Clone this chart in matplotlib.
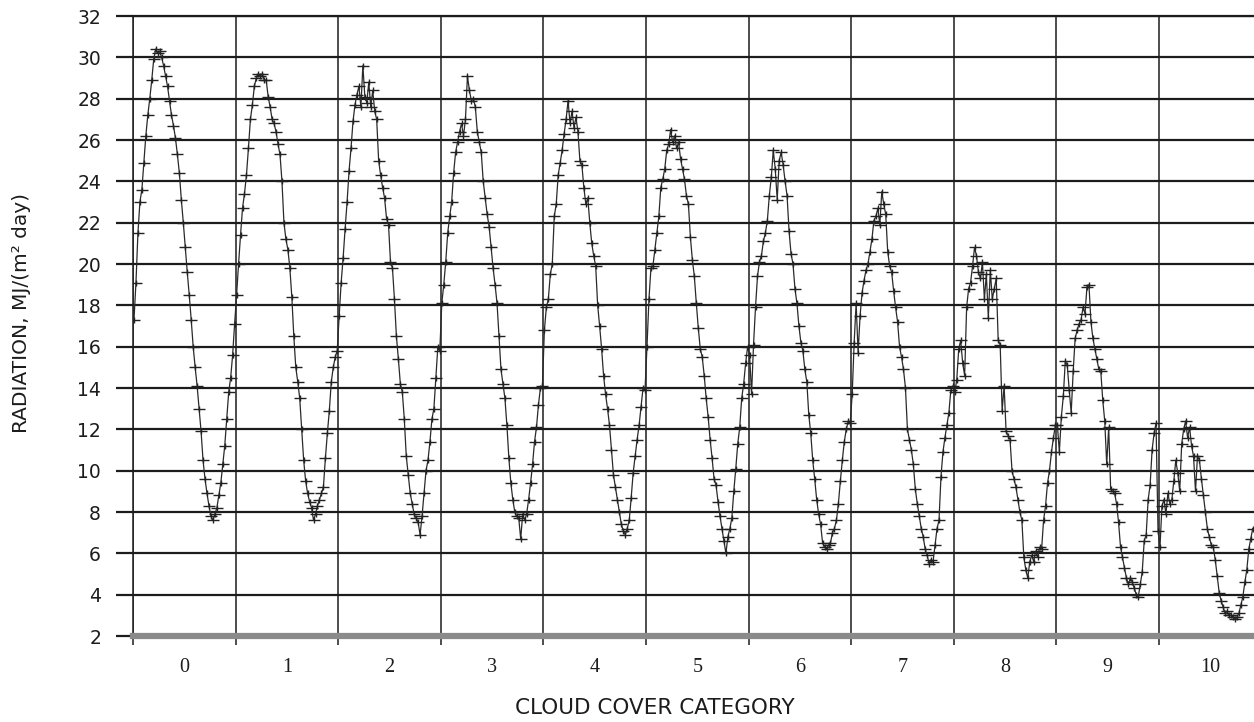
import numpy as np
import matplotlib
matplotlib.use("Agg")
import matplotlib.pyplot as plt
from matplotlib.path import Path

# weekly mean radiation per cloud cover category (52 weeks each, last one cut by the frame)
CAT0 = [17.3, 19.1, 21.5, 23.0, 23.6, 24.9, 26.2, 27.2, 28.0, 28.9, 29.9, 30.4, 30.2, 30.3, 30.0, 29.6,
        29.1, 28.6, 27.9, 27.2, 26.7, 26.1, 25.3, 24.4, 23.1, 22.0, 20.8, 19.6, 18.5, 17.3, 16.0, 15.0,
        14.1, 13.0, 11.9, 10.5, 9.6, 8.9, 8.3, 7.8, 7.6, 7.9, 8.2, 8.8, 9.4, 10.3, 11.2, 12.5, 13.8,
        14.5, 15.6, 17.1]
CAT1 = [18.5, 20.0, 21.4, 22.7, 23.4, 24.3, 25.6, 27.0, 27.7, 28.6, 29.0, 29.2, 29.1, 29.2, 28.9, 28.9,
        28.1, 27.6, 27.0, 26.8, 26.4, 25.8, 25.3, 24.0, 22.0, 21.2, 20.7, 19.8, 18.4, 16.5, 15.0, 14.3,
        13.5, 12.0, 10.5, 9.5, 8.9, 8.5, 8.2, 7.6, 7.9, 8.3, 8.6, 8.9, 9.2, 10.6, 11.8, 12.9, 14.3,
        15.0, 15.5, 15.8]
CAT2 = [17.5, 19.1, 20.3, 21.7, 23.0, 24.5, 25.6, 26.9, 27.7, 28.2, 28.6, 27.6, 29.6, 28.1, 27.8, 28.8,
        27.6, 28.4, 27.4, 27.0, 25.0, 24.3, 23.7, 23.2, 22.2, 21.9, 20.1, 19.8, 18.3, 16.5, 15.4, 14.2,
        13.8, 12.5, 10.7, 9.8, 8.9, 8.4, 7.9, 7.7, 7.5, 6.9, 7.8, 8.9, 10.0, 10.5, 11.4, 12.5, 13.0,
        14.5, 16.0, 15.8]
CAT3 = [18.1, 19.0, 20.1, 21.5, 22.3, 23.0, 24.4, 25.4, 25.9, 26.4, 26.8, 26.2, 27.0, 29.1, 28.4, 27.9,
        28.0, 27.6, 26.4, 25.9, 25.4, 24.0, 23.2, 22.4, 21.8, 20.8, 19.8, 19.0, 18.1, 16.5, 14.9, 14.2,
        13.5, 12.2, 10.6, 9.4, 8.6, 8.0, 7.8, 7.7, 6.7, 7.9, 7.6, 7.9, 8.6, 9.4, 10.3, 11.4, 12.1,
        13.2, 14.0, 14.1]
CAT4 = [16.8, 17.9, 18.3, 19.5, 20.0, 22.3, 22.9, 24.3, 24.9, 25.5, 26.3, 27.0, 27.9, 26.8, 27.4, 26.6,
        27.1, 26.4, 25.0, 24.8, 23.7, 22.9, 23.2, 22.0, 21.0, 20.4, 19.9, 18.0, 17.0, 15.9, 14.6, 13.7,
        13.0, 12.2, 11.0, 9.8, 9.2, 8.6, 8.0, 7.4, 7.1, 6.9, 7.2, 7.6, 8.7, 9.9, 10.7, 11.5, 12.2,
        13.1, 14.0, 13.9]
CAT5 = [16.0, 18.3, 19.8, 19.9, 20.7, 21.5, 22.3, 23.7, 24.1, 24.6, 25.5, 25.8, 26.5, 25.9, 26.2, 25.6,
        25.9, 25.1, 24.6, 24.1, 23.3, 22.9, 21.3, 20.2, 19.4, 18.1, 16.9, 15.9, 15.5, 14.6, 13.5, 12.6,
        11.5, 10.6, 9.6, 9.3, 8.5, 7.8, 7.2, 6.6, 6.0, 6.8, 7.2, 7.7, 9.0, 10.1, 11.3, 12.1, 13.5,
        14.2, 15.2, 16.0]
CAT6 = [15.6, 13.7, 16.1, 17.9, 19.4, 20.1, 20.4, 21.1, 21.5, 22.1, 23.3, 24.2, 25.5, 24.6, 23.1, 25.0,
        25.4, 24.8, 24.0, 23.3, 21.6, 20.5, 20.0, 18.8, 18.1, 17.0, 16.2, 15.8, 14.9, 14.3, 12.7, 11.8,
        10.5, 9.6, 8.6, 7.9, 7.4, 6.5, 6.3, 6.2, 6.4, 6.5, 7.0, 7.2, 7.6, 8.4, 9.5, 10.5, 11.4,
        12.0, 12.4, 12.3]
CAT7 = [13.7, 16.2, 18.1, 15.7, 17.5, 18.6, 19.2, 19.7, 20.0, 20.6, 21.2, 22.1, 22.3, 22.7, 21.9, 23.5,
        22.9, 22.4, 20.6, 19.9, 19.6, 18.7, 17.9, 17.2, 16.0, 15.5, 14.9, 14.0, 12.0, 11.5, 11.0, 10.3,
        9.1, 8.4, 7.8, 7.2, 6.8, 6.2, 5.9, 5.5, 5.7, 5.6, 6.4, 7.2, 7.6, 9.7, 10.9, 11.6, 12.2,
        12.8, 13.9, 14.1]
CAT8 = [13.8, 14.4, 15.9, 16.3, 15.2, 14.6, 17.9, 18.8, 19.1, 19.9, 20.8, 20.4, 19.6, 19.3, 20.1, 18.3,
        19.5, 17.4, 19.7, 18.3, 18.8, 19.3, 16.3, 16.1, 12.9, 14.1, 11.9, 11.7, 11.5, 10.0, 9.6, 9.2,
        8.6, 8.0, 7.6, 5.8, 5.2, 4.8, 5.6, 5.9, 5.6, 6.1, 5.8, 6.3, 6.2, 7.6, 8.3, 9.4, 10.0,
        10.9, 11.6, 12.2]
CAT9 = [12.2, 10.9, 12.6, 13.6, 15.3, 15.1, 13.9, 12.8, 14.8, 16.4, 16.8, 17.1, 17.3, 17.9, 17.6, 18.9,
        19.0, 17.2, 16.4, 15.9, 15.4, 14.9, 14.8, 13.4, 12.4, 10.3, 12.1, 9.1, 9.0, 8.9, 8.4, 7.5,
        6.3, 5.8, 5.3, 4.8, 4.5, 4.8, 4.6, 4.3, 4.0, 3.9, 4.5, 5.1, 6.6, 6.9, 8.6, 9.3, 11.0,
        11.8, 12.3, 7.1]
CAT10 = [6.3, 8.3, 8.6, 7.9, 8.9, 8.4, 8.6, 9.5, 10.5, 9.9, 9.0, 11.3, 12.0, 12.4, 11.6, 12.1,
         11.2, 10.7, 9.0, 10.7, 10.5, 9.6, 8.8, 8.0, 7.2, 6.8, 6.4, 6.3, 5.7, 4.9, 4.1, 3.7,
         3.4, 3.1, 3.2, 3.0, 3.0, 2.9, 2.8, 2.9, 3.1, 3.5, 3.9, 4.6, 5.2, 6.2, 6.7, 7.2]

categories = ["0", "1", "2", "3", "4", "5", "6", "7", "8", "9", "10"]
series = [CAT0, CAT1, CAT2, CAT3, CAT4, CAT5, CAT6, CAT7, CAT8, CAT9, CAT10]
WEEKS = 52

xs, ys = [], []
for k, vals in enumerate(series):
    xs.extend(k + (np.arange(len(vals)) + 0.5) / WEEKS)
    ys.extend(vals)

INK = "#1c1c1c"

fig = plt.figure(figsize=(12.54, 7.22), dpi=100)
ax = fig.add_axes([133 / 1254, 1 - 636 / 722, 1 - 133 / 1254, 620 / 722])
ax.set_xlim(0, 1121 / 102.6)
ax.set_ylim(2, 32)

# y grid + ticks sticking out to the left
ax.set_yticks(range(2, 33, 2))
ax.yaxis.grid(True, color=INK, lw=1.6)
ax.tick_params(axis="y", length=12, width=1.6, color=INK, pad=11,
               labelsize=13.5, labelcolor=INK)

# x: boundaries get grid lines, centres get the labels
ax.set_xticks(range(0, 11))
ax.set_xticks(np.arange(len(categories)) + 0.5, minor=True)
ax.set_xticklabels([])
ax.set_xticklabels(categories, minor=True, fontfamily="Liberation Serif", fontsize=14.5, color=INK)
ax.xaxis.grid(True, which="major", color=INK, lw=1.1)
ax.tick_params(axis="x", which="major", length=6.5, width=1.1, color=INK)
ax.tick_params(axis="x", which="minor", length=0, pad=16)

for s in ["right", "bottom"]:
    ax.spines[s].set_visible(False)
ax.spines["left"].set_color(INK)
ax.spines["left"].set_linewidth(1.1)
ax.spines["top"].set_color(INK)
ax.spines["top"].set_linewidth(1.6)

# the grey baseline band at 2
ax.axhline(2, color="#8a8a8a", lw=4.5, zorder=3, clip_on=False)

plus = Path([(-1, 0), (1, 0), (0, -0.55), (0, 0.55)],
            [Path.MOVETO, Path.LINETO, Path.MOVETO, Path.LINETO])
ax.plot(xs, ys, color="#2a2a2a", lw=0.9, marker=plus, markersize=9,
        mfc="none", mec="#222222", mew=1.0, zorder=4)

fig.text(22 / 1254, 1 - 313 / 722, "RADIATION, MJ/(m\u00b2 day)", rotation=90,
         ha="center", va="center", fontsize=14.5, color=INK)
fig.text(655 / 1254, 1 - 708 / 722, "CLOUD COVER CATEGORY",
         ha="center", va="center", fontsize=15.5, color=INK)

fig.savefig("out.png", dpi=100)
